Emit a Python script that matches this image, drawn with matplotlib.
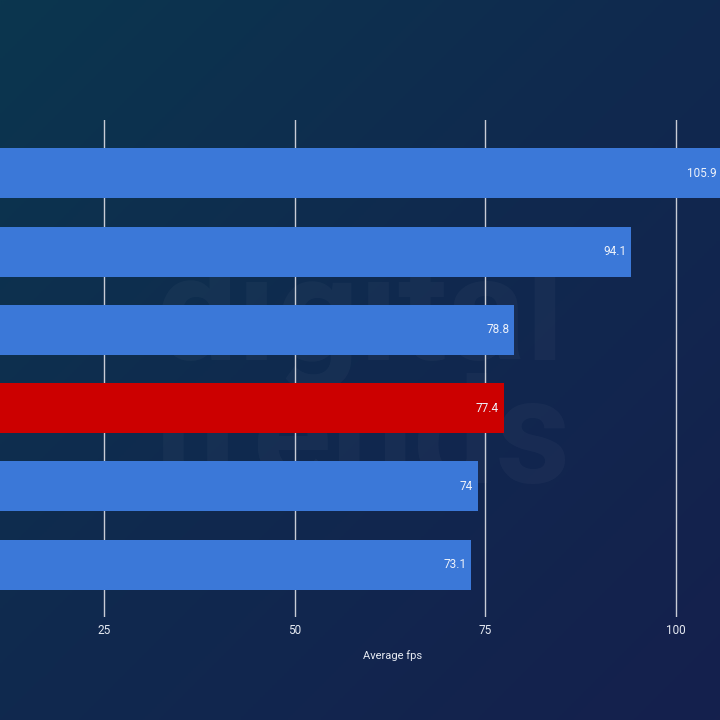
import matplotlib.pyplot as plt
import numpy as np
from matplotlib.colors import LinearSegmentedColormap

plt.rcParams['font.family'] = ['Roboto', 'DejaVu Sans']

# values (category names are cropped out of the picture)
fps = [105.9, 94.1, 78.8, 77.4, 74, 73.1]
highlight = [False, False, False, True, False, False]
ticks = [25, 50, 75, 100]

blue = "#3b78d8"
red = "#cc0000"

fig = plt.figure(figsize=(7.2, 7.2), dpi=100)

# gradient background, teal top-left to navy bottom-right
bg = fig.add_axes([0, 0, 1, 1], zorder=0)
xx, yy = np.meshgrid(np.linspace(0, 1, 300), np.linspace(0, 1, 300))
grad = (xx + yy) / 2
cmap = LinearSegmentedColormap.from_list("bg", ["#0b364e", "#10294f", "#15204d"])
bg.imshow(grad, cmap=cmap, extent=[0, 1, 0, 1], aspect="auto", origin="upper")
bg.axis("off")
# faint watermark
bg.text(0.50, 0.555, "digital", fontsize=105, fontweight="bold", color="white",
        alpha=0.03, ha="center", va="center")
bg.text(0.50, 0.385, "trends", fontsize=105, fontweight="bold", color="white",
        alpha=0.03, ha="center", va="center")

ax = fig.add_axes([0, 0.143, 1, 0.690], zorder=1)
ax.patch.set_alpha(0)

y = np.arange(len(fps))
colors = [red if h else blue for h in highlight]
ax.barh(y, fps, height=0.64, color=colors, zorder=3)

for yi, v in zip(y, fps):
    ax.text(v - 0.6, yi, f"{v:g}", ha="right", va="center", fontsize=8.5,
            color="#eef2fa", zorder=4)

ax.set_xlim(11.364, 105.77)
ax.set_ylim(5.67, -0.68)
ax.set_xticks(ticks)
ax.set_yticks([])
ax.grid(axis="x", color="#c8ccd6", linewidth=1, zorder=1)
ax.tick_params(axis="x", length=0, pad=5, labelsize=8.5, labelcolor="#e6eaf2")
for s in ax.spines.values():
    s.set_visible(False)
ax.set_xlabel("Average fps", fontsize=8, color="#e6eaf2")
ax.xaxis.set_label_coords(0.545, -0.066)

fig.savefig("out.png", dpi=100)
